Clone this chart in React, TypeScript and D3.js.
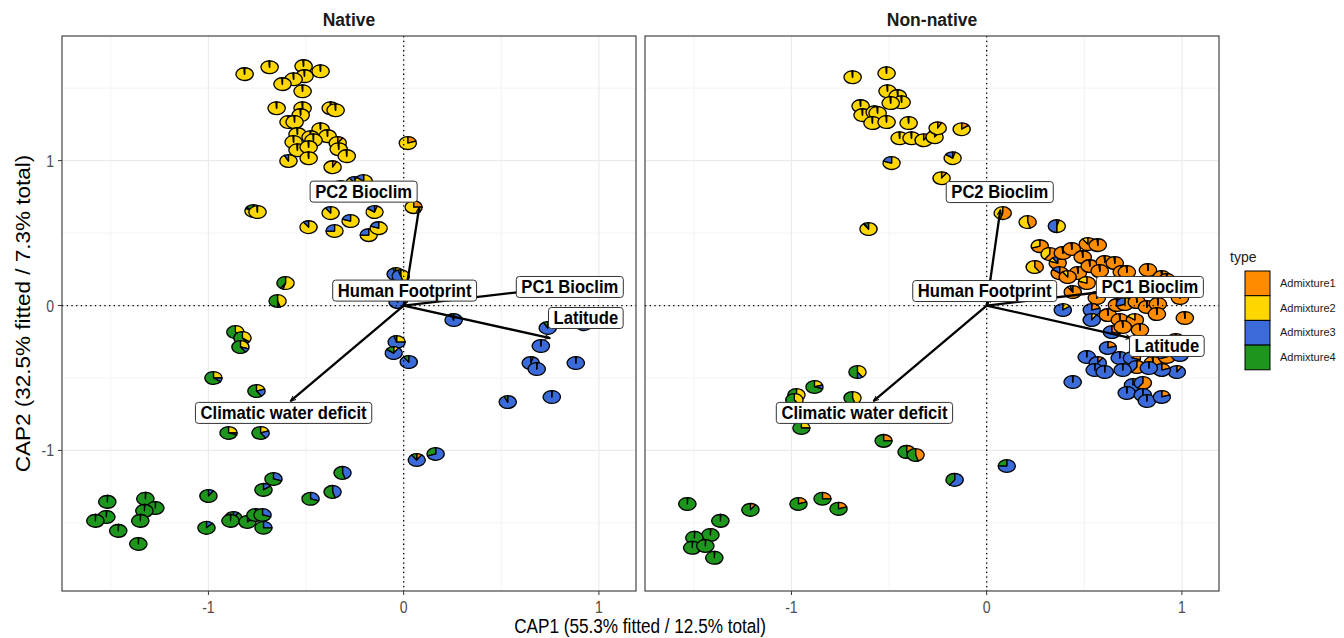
import React, { useMemo } from "react";
import * as d3 from "d3";

const W = 1344;
const H = 638;

const admixNames = ["Admixture1", "Admixture2", "Admixture3", "Admixture4"];
const admixColors = ["#FF8C00", "#FFD700", "#3A6BD9", "#1E961E"];
const panelNames = ["Native", "Non-native"];

// pure-ish compositions (orange, yellow, blue, green)
const O = [0.99, 0.004, 0.003, 0.003];
const Y = [0.004, 0.99, 0.003, 0.003];
const B = [0.003, 0.003, 0.99, 0.004];
const G = [0.003, 0.003, 0.004, 0.99];

// [CAP1, CAP2, composition]
const nativePoints: [number, number, number[]][] = [
  [-0.815, 1.597, Y], [-0.687, 1.645, Y], [-0.513, 1.652, Y], [-0.426, 1.617, Y],
  [-0.508, 1.583, Y], [-0.564, 1.562, Y], [-0.621, 1.528, Y], [-0.518, 1.479, Y],
  [-0.651, 1.362, Y], [-0.518, 1.362, Y], [-0.374, 1.362, Y], [-0.349, 1.348, Y],
  [-0.528, 1.314, Y], [-0.59, 1.266, Y], [-0.559, 1.266, Y], [-0.426, 1.217, Y],
  [-0.39, 1.169, Y], [-0.544, 1.183, Y], [-0.477, 1.162, Y], [-0.564, 1.128, Y],
  [-0.462, 1.141, Y], [-0.544, 1.072, Y], [-0.487, 1.093, Y],
  [-0.338, 1.121, [0.1, 0.9, 0, 0]], [-0.333, 1.079, Y], [-0.292, 1.031, Y],
  [-0.59, 0.997, [0, 0.92, 0.08, 0]], [-0.487, 1.017, Y],
  [-0.364, 0.955, [0.08, 0.92, 0, 0]], [-0.323, 0.817, [0.1, 0.9, 0, 0]],
  [-0.251, 0.845, [0, 0.9, 0.1, 0]], [-0.205, 0.859, [0, 0.85, 0.15, 0]],
  [-0.769, 0.652, [0, 0.82, 0.03, 0.15]], [-0.749, 0.645, Y],
  [-0.374, 0.638, [0, 0.9, 0.1, 0]], [-0.149, 0.645, [0.05, 0.8, 0.15, 0]],
  [-0.487, 0.541, [0, 0.9, 0.1, 0]], [-0.272, 0.583, [0, 0.8, 0.2, 0]],
  [-0.354, 0.514, [0, 0.75, 0.25, 0]], [-0.179, 0.486, [0, 0.75, 0.25, 0]],
  [-0.128, 0.534, [0, 0.8, 0.2, 0]],
  [0.021, 1.121, [0.2, 0.8, 0, 0]], [0.051, 0.679, [0.25, 0.75, 0, 0]],
  [-0.041, 0.217, [0, 0.35, 0.6, 0.05]], [-0.015, 0.203, [0, 0.45, 0.5, 0.05]],
  [-0.031, 0.024, [0, 0.05, 0.9, 0.05]],
  [-0.605, 0.155, [0, 0.55, 0.05, 0.4]], [-0.646, 0.031, [0, 0.45, 0.05, 0.5]],
  [-0.862, -0.183, [0, 0.4, 0.05, 0.55]], [-0.826, -0.224, [0, 0.35, 0.05, 0.6]],
  [-0.836, -0.286, [0, 0.3, 0.1, 0.6]], [-0.974, -0.5, [0, 0.25, 0.1, 0.65]],
  [-0.754, -0.59, [0, 0.2, 0.2, 0.6]], [-0.897, -0.879, [0, 0.25, 0.05, 0.7]],
  [-0.733, -0.879, [0, 0.2, 0.2, 0.6]],
  [0.256, -0.1, [0, 0, 0.95, 0.05]], [0.738, -0.155, [0.05, 0, 0.87, 0.08]],
  [0.923, -0.128, [0.12, 0, 0.88, 0]], [0.703, -0.279, B],
  [0.651, -0.397, [0.05, 0, 0.95, 0]], [0.682, -0.438, B], [0.882, -0.397, B],
  [0.533, -0.666, [0, 0, 0.93, 0.07]], [0.759, -0.631, B],
  [-0.036, -0.252, [0, 0.25, 0.7, 0.05]], [-0.051, -0.328, [0, 0.1, 0.75, 0.15]],
  [0.026, -0.39, [0, 0, 0.9, 0.1]], [0.067, -1.066, [0.1, 0, 0.8, 0.1]],
  [0.164, -1.024, [0, 0, 0.7, 0.3]],
  [-1.518, -1.355, G], [-1.523, -1.459, G], [-1.579, -1.486, G], [-1.462, -1.555, G],
  [-1.323, -1.334, G], [-1.272, -1.397, G], [-1.328, -1.417, G], [-1.349, -1.486, G],
  [-1.359, -1.645, G],
  [-1.0, -1.314, [0, 0, 0.1, 0.9]], [-1.01, -1.534, [0, 0, 0.12, 0.88]],
  [-0.667, -1.197, [0, 0, 0.3, 0.7]], [-0.718, -1.272, [0, 0, 0.15, 0.85]],
  [-0.872, -1.466, [0, 0, 0.1, 0.9]], [-0.887, -1.486, G],
  [-0.8, -1.493, [0, 0, 0.15, 0.85]], [-0.759, -1.445, [0, 0, 0.1, 0.9]],
  [-0.723, -1.445, [0, 0, 0.3, 0.7]], [-0.718, -1.534, [0, 0, 0.25, 0.75]],
  [-0.477, -1.334, [0, 0, 0.3, 0.7]], [-0.364, -1.286, [0, 0, 0.45, 0.55]],
  [-0.313, -1.155, [0, 0, 0.45, 0.55]],
];

const nonNativePoints: [number, number, number[]][] = [
  [-0.687, 1.576, Y], [-0.513, 1.603, Y], [-0.508, 1.479, Y], [-0.456, 1.445, Y],
  [-0.436, 1.403, Y], [-0.492, 1.397, Y], [-0.646, 1.376, Y], [-0.636, 1.314, Y],
  [-0.574, 1.334, Y], [-0.559, 1.328, Y], [-0.585, 1.259, Y], [-0.513, 1.266, Y],
  [-0.4, 1.259, Y], [-0.446, 1.155, Y], [-0.385, 1.155, Y],
  [-0.323, 1.141, [0.1, 0.9, 0, 0]], [-0.267, 1.162, [0.1, 0.9, 0, 0]],
  [-0.251, 1.224, [0.08, 0.92, 0, 0]], [-0.128, 1.217, [0.15, 0.85, 0, 0]],
  [-0.487, 0.983, [0, 0.8, 0.2, 0]], [-0.174, 1.017, [0.05, 0.8, 0.15, 0]],
  [-0.231, 0.879, [0.1, 0.9, 0, 0]], [-0.605, 0.528, [0, 0.9, 0.02, 0.08]],
  [0.082, 0.638, [0.55, 0.45, 0, 0]], [0.21, 0.576, [0.45, 0.55, 0, 0]],
  [0.359, 0.548, [0.05, 0.45, 0.5, 0]], [0.246, 0.266, [0.4, 0.6, 0, 0]],
  [0.272, 0.41, [0.7, 0.3, 0, 0]],
  [0.323, 0.355, [0.6, 0.4, 0, 0]], [0.364, 0.293, [0.8, 0.1, 0.1, 0]],
  [0.39, 0.362, O], [0.436, 0.39, O], [0.518, 0.424, [0.9, 0.1, 0, 0]],
  [0.569, 0.417, O], [0.374, 0.224, [0.85, 0, 0.15, 0]], [0.467, 0.224, O],
  [0.492, 0.334, O], [0.528, 0.272, O], [0.605, 0.3, O], [0.656, 0.293, O],
  [0.692, 0.231, O], [0.718, 0.231, O], [0.826, 0.245, O], [0.897, 0.197, O],
  [0.923, 0.176, O], [0.579, 0.238, O], [0.415, 0.197, [0.9, 0.1, 0, 0]],
  [0.513, 0.155, [0.8, 0.2, 0, 0]], [0.441, 0.093, [0.9, 0.05, 0.05, 0]],
  [0.564, 0.052, O], [0.631, 0.121, O], [0.785, 0.128, O], [0.99, 0.052, O],
  [0.538, -0.031, [0.2, 0, 0.8, 0]], [0.39, -0.031, [0, 0.15, 0.85, 0]],
  [0.538, -0.1, [0, 0.1, 0.9, 0]], [0.621, -0.066, O], [0.667, 0.003, O],
  [0.708, 0.01, [0.7, 0, 0.3, 0]], [0.769, 0.024, O], [0.821, -0.01, O],
  [0.877, 0.01, O], [0.872, -0.059, O], [1.015, -0.086, O], [0.682, -0.1, O],
  [0.759, -0.1, [0.85, 0.15, 0, 0]], [0.641, -0.183, [0.3, 0, 0.7, 0]],
  [0.697, -0.148, O], [0.785, -0.169, O], [0.969, -0.238, O],
  [0.513, -0.355, B], [0.621, -0.293, [0.2, 0, 0.8, 0]], [0.682, -0.362, B],
  [0.569, -0.397, [0.1, 0, 0.9, 0]], [0.554, -0.445, B], [0.605, -0.459, B],
  [0.744, -0.362, [0.3, 0, 0.7, 0]], [0.769, -0.424, [0.6, 0, 0.4, 0]],
  [0.851, -0.397, O], [0.923, -0.355, [0.7, 0, 0.3, 0]], [0.99, -0.341, B],
  [0.974, -0.459, [0.1, 0, 0.9, 0]], [0.897, -0.445, [0.2, 0, 0.8, 0]],
  [0.831, -0.431, B], [0.697, -0.445, B], [0.441, -0.528, B],
  [0.749, -0.548, [0.2, 0, 0.8, 0]], [0.8, -0.534, [0.6, 0, 0.4, 0]],
  [0.718, -0.603, B], [0.8, -0.617, B], [0.821, -0.659, B],
  [0.897, -0.631, [0.2, 0, 0.8, 0]],
  [-0.662, -0.459, [0, 0.4, 0.1, 0.5]], [-0.882, -0.562, [0, 0.2, 0.1, 0.7]],
  [-0.974, -0.617, [0, 0.45, 0, 0.55]], [-0.985, -0.652, [0, 0.4, 0, 0.6]],
  [-0.687, -0.638, [0, 0.45, 0, 0.55]], [-0.949, -0.845, [0, 0.25, 0, 0.75]],
  [-0.528, -0.934, [0.25, 0, 0, 0.75]], [-0.41, -1.01, [0.35, 0, 0, 0.65]],
  [-0.364, -1.031, [0.45, 0, 0, 0.55]], [-0.164, -1.203, [0, 0, 0.6, 0.4]],
  [0.103, -1.107, [0, 0, 0.75, 0.25]],
  [-1.533, -1.369, G], [-1.21, -1.41, [0.1, 0, 0, 0.9]],
  [-0.964, -1.369, [0.2, 0, 0, 0.8]], [-0.841, -1.334, [0.25, 0, 0, 0.75]],
  [-0.759, -1.403, [0.2, 0, 0, 0.8]], [-1.364, -1.486, G], [-1.415, -1.583, G],
  [-1.497, -1.603, G], [-1.508, -1.672, G], [-1.441, -1.659, G], [-1.395, -1.741, G],
];

const vectorNames = ["PC2 Bioclim", "PC1 Bioclim", "Latitude", "Human Footprint", "Climatic water deficit"];
// [endX, endY, labelX, labelY]
const nativeVectors = [
  [0.08, 0.68, -0.205, 0.786],
  [0.64, 0.1, 0.851, 0.128],
  [0.75, -0.225, 0.933, -0.086],
  [0.02, 0.06, 0.005, 0.103],
  [-0.58, -0.66, -0.615, -0.741],
];
const nonNativeVectors = [
  [0.07, 0.66, 0.067, 0.783],
  [0.6, 0.095, 0.836, 0.128],
  [0.74, -0.225, 0.923, -0.279],
  [0.02, 0.06, -0.01, 0.1],
  [-0.58, -0.66, -0.626, -0.741],
];

const xTicks = [-1, 0, 1];
const yTicks = [-1, 0, 1];
const xMinor = [-1.5, -0.5, 0.5];
const yMinor = [-1.5, -0.5, 0.5, 1.5];

const pieR = 0.044;
const FONT = "'Liberation Sans', Arial, sans-serif";

const panelLeft = [62, 645];
const panelW = 574;
const top = 36;
const bottom = 591;

export default function App() {
  const x = d3.scaleLinear().domain([-1.75, 1.19]).range([0, panelW]);
  const y = d3.scaleLinear().domain([-1.97, 1.86]).range([bottom, top]);
  const rx = x(pieR) - x(0);
  const ry = y(0) - y(pieR);

  const pie = d3.pie<number>().sort(null).value((d) => d);
  const arc = d3.arc<d3.PieArcDatum<number>>().innerRadius(0).outerRadius(1);

  const measure = useMemo(() => {
    const ctx = document.createElement("canvas").getContext("2d")!;
    return (t: string, font: string) => {
      ctx.font = font;
      return ctx.measureText(t).width;
    };
  }, []);

  const labelFont = 17.5;
  const labelScale = 0.95;

  const data = [nativePoints, nonNativePoints];
  const vectors = [nativeVectors, nonNativeVectors];

  return (
    <svg width={W} height={H} style={{ position: "absolute", left: 0, top: 0, background: "white" }} fontFamily={FONT}>
      <defs>
        <marker id="arrow" viewBox="0 0 10 10" refX="9" refY="5" markerWidth="6" markerHeight="6"
          markerUnits="userSpaceOnUse" orient="auto">
          <path d="M0,1 L9,5 L0,9" fill="none" stroke="black" strokeWidth="1.6" />
        </marker>
      </defs>
      <rect width={W} height={H} fill="white" />
      {panelNames.map((name, pi) => {
        const ox = panelLeft[pi];
        return (
          <g key={name} transform={`translate(${ox},0)`}>
            <text x={panelW / 2} y={26} textAnchor="middle" fontWeight="bold" fontSize={17.5} fill="#1a1a1a">
              {name}
            </text>
            {xMinor.map((v) => (
              <line key={"xm" + v} x1={x(v)} x2={x(v)} y1={top} y2={bottom} stroke="#EBEBEB" strokeWidth={0.6} />
            ))}
            {yMinor.map((v) => (
              <line key={"ym" + v} x1={0} x2={panelW} y1={y(v)} y2={y(v)} stroke="#EBEBEB" strokeWidth={0.6} />
            ))}
            {xTicks.map((v) => (
              <line key={"xt" + v} x1={x(v)} x2={x(v)} y1={top} y2={bottom} stroke="#EBEBEB" strokeWidth={1.2} />
            ))}
            {yTicks.map((v) => (
              <line key={"yt" + v} x1={0} x2={panelW} y1={y(v)} y2={y(v)} stroke="#EBEBEB" strokeWidth={1.2} />
            ))}
            {data[pi].map((p, i) => (
              <g key={i} transform={`translate(${x(p[0])},${y(p[1])}) scale(${rx},${ry})`}>
                {pie(p[2]).filter((s) => s.value > 0).map((s, j) => (
                  <path key={j} d={arc(s) || ""} fill={admixColors[s.index]} stroke="black"
                    strokeWidth={1.3} vectorEffect="non-scaling-stroke" strokeLinejoin="round" />
                ))}
              </g>
            ))}
            <line x1={x(0)} x2={x(0)} y1={top} y2={bottom} stroke="black" strokeWidth={1.3} strokeDasharray="1.3,3.4" />
            <line x1={0} x2={panelW} y1={y(0)} y2={y(0)} stroke="black" strokeWidth={1.3} strokeDasharray="1.3,3.4" />
            {vectors[pi].map((v, i) => (
              <line key={"v" + i} x1={x(0)} y1={y(0)} x2={x(v[0])} y2={y(v[1])} stroke="black"
                strokeWidth={2.3} markerEnd="url(#arrow)" />
            ))}
            {vectors[pi].map((v, i) => {
              const tw = measure(vectorNames[i], `bold ${labelFont}px ${FONT}`) * labelScale;
              const bw = tw + 10;
              const bh = 21;
              const cx = x(v[2]);
              const cy = y(v[3]);
              return (
                <g key={"l" + i}>
                  <rect x={cx - bw / 2} y={cy - bh / 2} width={bw} height={bh} rx={3} fill="white"
                    stroke="#333" strokeWidth={1} />
                  <text transform={`translate(${cx},${cy + 6.2}) scale(${labelScale},1)`} textAnchor="middle"
                    fontWeight="bold" fontSize={labelFont} fill="black">
                    {vectorNames[i]}
                  </text>
                </g>
              );
            })}
            <rect x={0} y={top} width={panelW} height={bottom - top} fill="none" stroke="#333333" strokeWidth={1.1} />
            {xTicks.map((v) => (
              <g key={"xl" + v}>
                <line x1={x(v)} x2={x(v)} y1={bottom} y2={bottom + 4} stroke="#333" strokeWidth={1} />
                <text transform={`translate(${x(v)},${bottom + 22}) scale(0.85,1)`} textAnchor="middle"
                  fontSize={16.5} fill="#4D4D4D">
                  {v}
                </text>
              </g>
            ))}
          </g>
        );
      })}
      {yTicks.map((v) => (
        <g key={"yl" + v}>
          <line x1={58} x2={62} y1={y(v)} y2={y(v)} stroke="#333" strokeWidth={1} />
          <text transform={`translate(54,${y(v) + 6}) scale(0.85,1)`} textAnchor="end" fontSize={16.5} fill="#4D4D4D">
            {v}
          </text>
        </g>
      ))}
      <text transform={`translate(640,633) scale(0.88,1)`} textAnchor="middle" fontSize={19.5} fill="black">
        CAP1 (55.3% fitted / 12.5% total)
      </text>
      <text transform={`translate(30,${(top + bottom) / 2}) scale(0.9,1) rotate(-90)`} textAnchor="middle"
        fontSize={22.5} fill="black">
        CAP2 (32.5% fitted / 7.3% total)
      </text>
      <g>
        <text x={1230} y={262} fontSize={14} fill="#1a1a1a">type</text>
        {admixNames.map((n, i) => (
          <g key={n}>
            <rect x={1245} y={271 + i * 24.7} width={25} height={24.7} fill={admixColors[i]} stroke="black" strokeWidth={1} />
            <text x={1280} y={271 + i * 24.7 + 16} fontSize={11} fill="#1a1a1a">{n}</text>
          </g>
        ))}
      </g>
    </svg>
  );
}
